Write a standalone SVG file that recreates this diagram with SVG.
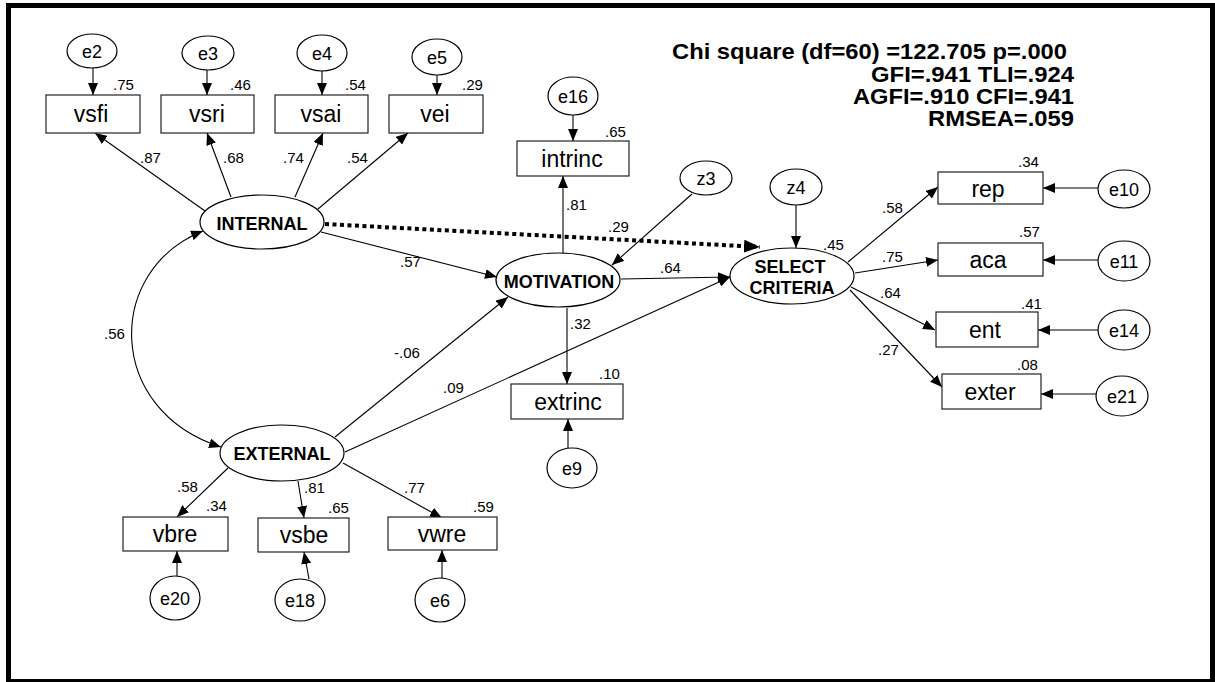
<svg xmlns="http://www.w3.org/2000/svg" width="1215" height="682" viewBox="0 0 1215 682">
<style>
.frame{fill:#fff;stroke:#000;stroke-width:5}
.box{fill:#fff;stroke:#222;stroke-width:1.2}
.ell{fill:#fff;stroke:#000;stroke-width:1.2}
.obs{font-family:"Liberation Sans",Arial,sans-serif;font-size:23px;text-anchor:middle;fill:#000}
.err{font-family:"Liberation Sans",Arial,sans-serif;font-size:18px;text-anchor:middle;fill:#000}
.lat{font-family:"Liberation Sans",Arial,sans-serif;font-size:18px;font-weight:bold;text-anchor:middle;fill:#000}
.num{font-family:"Liberation Sans",Arial,sans-serif;font-size:15px;fill:#000}
.stat{font-family:"Liberation Sans",Arial,sans-serif;font-size:22px;font-weight:bold;text-anchor:end;fill:#000}
.ln{fill:none;stroke:#000;stroke-width:1.1;marker-end:url(#ah)}
.dot{fill:none;stroke:#000;stroke-width:4;stroke-dasharray:4 3.5;marker-end:url(#ahb)}
</style>
<defs>
<marker id="ah" viewBox="0 0 12 10" refX="12" refY="5" markerWidth="12" markerHeight="10" orient="auto-start-reverse" markerUnits="userSpaceOnUse"><path d="M0,0 L12,5 L0,10 z" fill="#000"/></marker>
<marker id="ahb" viewBox="0 0 16 13" refX="16" refY="6.5" markerWidth="16" markerHeight="13" orient="auto" markerUnits="userSpaceOnUse"><path d="M0,0 L16,6.5 L0,13 z" fill="#000"/></marker>
</defs>
<rect class="frame" x="8.5" y="5.5" width="1204" height="676"/>

<g id="connectors">
<path class="ln" d="M93,68 L93,95"/>
<path class="ln" d="M207,70 L207,95"/>
<path class="ln" d="M322,71 L322,95"/>
<path class="ln" d="M437,72 L437,95"/>
<path class="ln" d="M205,211 L95,133"/>
<path class="ln" d="M231,197 L207,133"/>
<path class="ln" d="M295,197 L323,133"/>
<path class="ln" d="M318,209 L408,133"/>
<path class="dot" d="M325,224 L760,247"/>
<path class="ln" d="M321,232 L497,277"/>
<path class="ln" style="marker-start:url(#ah)" d="M203,231 C105,270 105,410 221,447"/>
<path class="ln" d="M335,437 L508,297"/>
<path class="ln" d="M345,452 L730,277"/>
<path class="ln" d="M621,279 L730,277"/>
<path class="ln" d="M563,253 L563,176"/>
<path class="ln" d="M573,115 L573,141"/>
<path class="ln" d="M692,194 L612,265"/>
<path class="ln" d="M796,205 L796,248"/>
<path class="ln" d="M567,308 L567,384"/>
<path class="ln" d="M568,448 L568,419"/>
<path class="ln" d="M848,262 L938,187"/>
<path class="ln" d="M855,273 L938,260"/>
<path class="ln" d="M851,287 L935,330"/>
<path class="ln" d="M850,290 L942,387"/>
<path class="ln" d="M1098,188 L1043,188"/>
<path class="ln" d="M1098,260 L1043,260"/>
<path class="ln" d="M1098,330 L1038,330"/>
<path class="ln" d="M1096,394 L1041,394"/>
<path class="ln" d="M228,468 L177,517"/>
<path class="ln" d="M298,481 L304,518"/>
<path class="ln" d="M343,463 L442,518"/>
<path class="ln" d="M177,576 L177,551"/>
<path class="ln" d="M309,579 L304,552"/>
<path class="ln" d="M442,578 L442,550"/>
</g>

<g id="e2"><ellipse class="ell" cx="92" cy="51" rx="25" ry="17"/><text class="err" x="92" y="58">e2</text></g>
<g id="e3"><ellipse class="ell" cx="208" cy="53" rx="26" ry="17"/><text class="err" x="208" y="60">e3</text></g>
<g id="e4"><ellipse class="ell" cx="322" cy="53" rx="25" ry="18"/><text class="err" x="322" y="60">e4</text></g>
<g id="e5"><ellipse class="ell" cx="437" cy="57" rx="25" ry="18"/><text class="err" x="437" y="64">e5</text></g>

<g id="vsfi"><rect class="box" x="46" y="95" width="94" height="38"/><text class="obs" x="91" y="122">vsfi</text><text class="num" x="113" y="90">.75</text></g>
<g id="vsri"><rect class="box" x="161" y="95" width="93" height="38"/><text class="obs" x="207" y="122">vsri</text><text class="num" x="230" y="90">.46</text></g>
<g id="vsai"><rect class="box" x="275" y="95" width="93" height="38"/><text class="obs" x="321" y="122">vsai</text><text class="num" x="345" y="90">.54</text></g>
<g id="vei"><rect class="box" x="389" y="95" width="94" height="38"/><text class="obs" x="435" y="122">vei</text><text class="num" x="462" y="90">.29</text></g>

<g id="e16"><ellipse class="ell" cx="573" cy="96" rx="25" ry="19"/><text class="err" x="573" y="103">e16</text></g>
<g id="intrinc"><rect class="box" x="517" y="141" width="112" height="35"/><text class="obs" x="572" y="167">intrinc</text><text class="num" x="605" y="137">.65</text></g>
<g id="z3"><ellipse class="ell" cx="706" cy="178" rx="26" ry="17"/><text class="err" x="706" y="185">z3</text></g>
<g id="z4"><ellipse class="ell" cx="796" cy="187" rx="26" ry="18"/><text class="err" x="796" y="194">z4</text></g>

<g id="INTERNAL"><ellipse class="ell" cx="262" cy="222" rx="62" ry="27"/><text class="lat" x="262" y="230">INTERNAL</text></g>
<g id="EXTERNAL"><ellipse class="ell" cx="282" cy="453" rx="62" ry="28"/><text class="lat" x="282" y="460">EXTERNAL</text></g>
<g id="MOTIVATION"><ellipse class="ell" cx="558" cy="280" rx="62" ry="27"/><text class="lat" x="559" y="288">MOTIVATION</text></g>
<g id="SELECT"><ellipse class="ell" cx="792" cy="276" rx="62" ry="28"/><text class="lat" x="790" y="273">SELECT</text><text class="lat" x="792" y="294">CRITERIA</text><text class="num" x="823" y="250">.45</text></g>

<g id="extrinc"><rect class="box" x="511" y="384" width="112" height="35"/><text class="obs" x="568" y="410">extrinc</text><text class="num" x="599" y="379">.10</text></g>
<g id="e9"><ellipse class="ell" cx="572" cy="468" rx="25" ry="20"/><text class="err" x="572" y="475">e9</text></g>

<g id="rep"><rect class="box" x="938" y="172" width="105" height="32"/><text class="obs" x="988" y="197">rep</text><text class="num" x="1018" y="167">.34</text></g>
<g id="aca"><rect class="box" x="938" y="243" width="105" height="33"/><text class="obs" x="988" y="268">aca</text><text class="num" x="1019" y="237">.57</text></g>
<g id="ent"><rect class="box" x="936" y="312" width="102" height="35"/><text class="obs" x="985" y="338">ent</text><text class="num" x="1021" y="309">.41</text></g>
<g id="exter"><rect class="box" x="942" y="374" width="99" height="35"/><text class="obs" x="990" y="400">exter</text><text class="num" x="1017" y="370">.08</text></g>

<g id="e10"><ellipse class="ell" cx="1124" cy="189" rx="26" ry="19"/><text class="err" x="1124" y="196">e10</text></g>
<g id="e11"><ellipse class="ell" cx="1124" cy="261" rx="26" ry="20"/><text class="err" x="1124" y="268">e11</text></g>
<g id="e14"><ellipse class="ell" cx="1124" cy="330" rx="26" ry="20"/><text class="err" x="1124" y="337">e14</text></g>
<g id="e21"><ellipse class="ell" cx="1122" cy="396" rx="26" ry="20"/><text class="err" x="1122" y="403">e21</text></g>

<g id="vbre"><rect class="box" x="123" y="517" width="105" height="34"/><text class="obs" x="175" y="542">vbre</text><text class="num" x="206" y="511">.34</text></g>
<g id="vsbe"><rect class="box" x="258" y="518" width="91" height="34"/><text class="obs" x="304" y="543">vsbe</text><text class="num" x="328" y="513">.65</text></g>
<g id="vwre"><rect class="box" x="388" y="517" width="109" height="33"/><text class="obs" x="442" y="542">vwre</text><text class="num" x="473" y="512">.59</text></g>

<g id="e20"><ellipse class="ell" cx="175" cy="598" rx="25" ry="22"/><text class="err" x="175" y="605">e20</text></g>
<g id="e18"><ellipse class="ell" cx="300" cy="600" rx="25" ry="21"/><text class="err" x="300" y="607">e18</text></g>
<g id="e6"><ellipse class="ell" cx="440" cy="600" rx="25" ry="22"/><text class="err" x="440" y="607">e6</text></g>

<g id="labels">
<text class="num" x="140" y="163">.87</text>
<text class="num" x="223" y="163">.68</text>
<text class="num" x="283" y="163">.74</text>
<text class="num" x="347" y="163">.54</text>
<text class="num" x="566" y="210">.81</text>
<text class="num" x="608" y="232">.29</text>
<text class="num" x="400" y="267">.57</text>
<text class="num" x="104" y="339">.56</text>
<text class="num" x="394" y="358">-.06</text>
<text class="num" x="443" y="393">.09</text>
<text class="num" x="660" y="273">.64</text>
<text class="num" x="570" y="329">.32</text>
<text class="num" x="882" y="213">.58</text>
<text class="num" x="882" y="262">.75</text>
<text class="num" x="880" y="298">.64</text>
<text class="num" x="878" y="355">.27</text>
<text class="num" x="177" y="492">.58</text>
<text class="num" x="304" y="493">.81</text>
<text class="num" x="404" y="493">.77</text>
</g>

<g id="fit">
<text class="stat" x="1067" y="59" textLength="395" lengthAdjust="spacingAndGlyphs">Chi square (df=60) =122.705 p=.000</text>
<text class="stat" x="1074" y="82" textLength="203" lengthAdjust="spacingAndGlyphs">GFI=.941 TLI=.924</text>
<text class="stat" x="1074" y="104" textLength="221" lengthAdjust="spacingAndGlyphs">AGFI=.910 CFI=.941</text>
<text class="stat" x="1074" y="126" textLength="146" lengthAdjust="spacingAndGlyphs">RMSEA=.059</text>
</g>
</svg>
